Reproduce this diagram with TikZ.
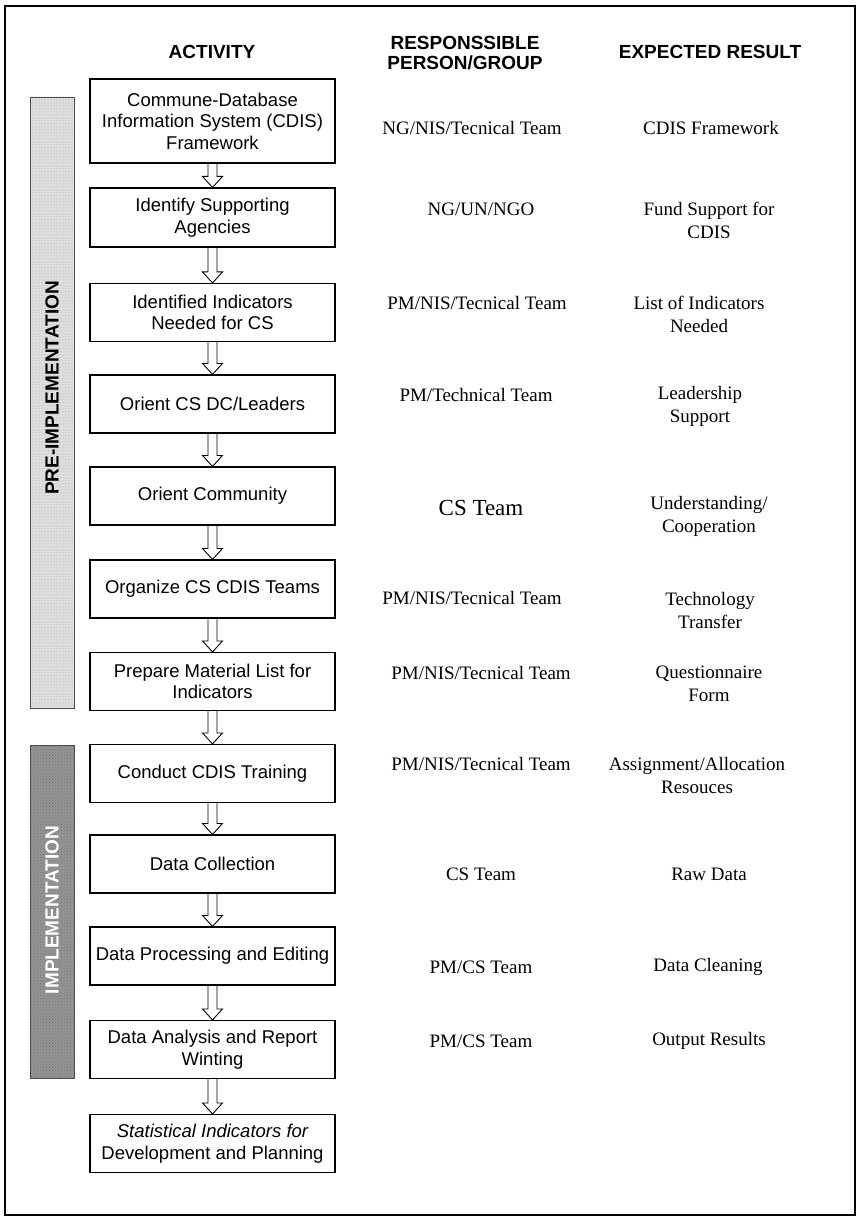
\documentclass[tikz,border=0pt]{standalone}
\usepackage{fontspec}
\setmainfont{Liberation Serif}
\newfontfamily\boxfont{Liberation Sans}
\usetikzlibrary{calc,patterns}

\definecolor{prephase}{HTML}{DEDEDE}
\definecolor{implphase}{HTML}{959595}

% hollow double-line arrow from the bottom of one box to the top of the next
\newcommand\flowarrow[2]{%
  \draw[hollowarrow] ($(#1.south)+(-4.5,0)$) -- ($(#2.north)+(-4.5,-11)$)
    -- ($(#2.north)+(-10,-11)$) -- (#2.north) -- ($(#2.north)+(10,-11)$)
    -- ($(#2.north)+(4.5,-11)$) -- ($(#1.south)+(4.5,0)$);}

\begin{document}
\begin{tikzpicture}[x=1pt,y=-1pt,
  stepbox/.style={draw, line width=1.1pt, minimum width=245pt, minimum height=58pt,
    align=center, inner sep=2pt, font=\boxfont\fontsize{18.5}{21.5}\selectfont},
  colhead/.style={align=center, font=\boxfont\bfseries\fontsize{19}{20}\selectfont},
  who/.style={align=center, inner sep=0pt, font=\fontsize{19}{23}\selectfont},
  hollowarrow/.style={draw, line width=0.9pt, line join=miter},
  phasebar/.style={draw=black!70, line width=0.8pt},
  phaselabel/.style={rotate=90, font=\boxfont\bfseries\fontsize{19}{20}\selectfont}
]
\useasboundingbox (0,0) rectangle (860,1222);
\fill[white] (0,0) rectangle (860,1222);

% outer frame
\draw[line width=1.2pt] (5,6) rectangle (855,1215);

% column headings
\node[colhead] (hact) at (212,52) {ACTIVITY};
\node[colhead] (hwho) at (465,53) {RESPONSSIBLE\\PERSON/GROUP};
\node[colhead] (hres) at (710,52) {EXPECTED RESULT};

% phase bars, stippled
\fill[prephase] (30,97) rectangle (74,708);
\fill[pattern=dots, pattern color=black!35] (30,97) rectangle (74,708);
\draw[phasebar] (30,97) rectangle (74,708);
\node[phaselabel, text=black] (pre) at (52,388) {PRE-IMPLEMENTATION};
\fill[implphase] (30,745) rectangle (74,1078);
\fill[pattern=crosshatch dots, pattern color=black!55] (30,745) rectangle (74,1078);
\draw[phasebar] (30,745) rectangle (74,1078);
\node[phaselabel, text=white] (impl) at (52,910) {IMPLEMENTATION};

% activity boxes
\node[stepbox, minimum height=84pt] (a1) at (212.5,121)
  {Commune-Database\\Information System (CDIS)\\Framework};
\node[stepbox, minimum height=59pt] (a2) at (212.5,217.5) {Identify Supporting\\Agencies};
\node[stepbox] (a3) at (212.5,312.5) {Identified Indicators\\Needed for CS};
\node[stepbox] (a4) at (212.5,404) {Orient CS DC/Leaders};
\node[stepbox] (a5) at (212.5,496) {Orient Community};
\node[stepbox] (a6) at (212.5,589) {Organize CS CDIS Teams};
\node[stepbox] (a7) at (212.5,681.5) {Prepare Material List for\\Indicators};
\node[stepbox] (a8) at (212.5,773.5) {Conduct CDIS Training};
\node[stepbox] (a9) at (212.5,864) {Data Collection};
\node[stepbox] (a10) at (212.5,956) {Data Processing and Editing};
\node[stepbox] (a11) at (212.5,1049.5) {Data Analysis and Report\\Winting};
\node[stepbox] (a12) at (212.5,1143.5)
  {\itshape Statistical Indicators for\\Development and Planning};

\flowarrow{a1}{a2}
\flowarrow{a2}{a3}
\flowarrow{a3}{a4}
\flowarrow{a4}{a5}
\flowarrow{a5}{a6}
\flowarrow{a6}{a7}
\flowarrow{a7}{a8}
\flowarrow{a8}{a9}
\flowarrow{a9}{a10}
\flowarrow{a10}{a11}
\flowarrow{a11}{a12}

% responsible person / group
\node[who] (w1) at (472,128) {NG/NIS/Tecnical Team};
\node[who] (w2) at (481,209) {NG/UN/NGO};
\node[who] (w3) at (477,303) {PM/NIS/Tecnical Team};
\node[who] (w4) at (476,395) {PM/Technical Team};
\node[who, font=\fontsize{23}{26}\selectfont] (w5) at (481,508) {CS Team};
\node[who] (w6) at (472,598) {PM/NIS/Tecnical Team};
\node[who] (w7) at (481,673) {PM/NIS/Tecnical Team};
\node[who] (w8) at (481,764) {PM/NIS/Tecnical Team};
\node[who] (w9) at (481,874) {CS Team};
\node[who] (w10) at (481,967) {PM/CS Team};
\node[who] (w11) at (481,1041) {PM/CS Team};

% expected results
\node[who] (r1) at (711,128) {CDIS Framework};
\node[who] (r2) at (709,220.5) {Fund Support for\\CDIS};
\node[who] (r3) at (699,314) {List of Indicators\\Needed};
\node[who] (r4) at (700,406.5) {Leadership\\Support};
\node[who] (r5) at (709,516.5) {Understanding/\\Cooperation};
\node[who] (r6) at (710,610) {Technology\\Transfer};
\node[who] (r7) at (709,684) {Questionnaire\\Form};
\node[who] (r8) at (697,775.5) {Assignment/Allocation\\Resouces};
\node[who] (r9) at (709,874) {Raw Data};
\node[who] (r10) at (708,967) {Data Cleaning};
\node[who] (r11) at (709,1041) {Output Results};
\end{tikzpicture}
\end{document}
